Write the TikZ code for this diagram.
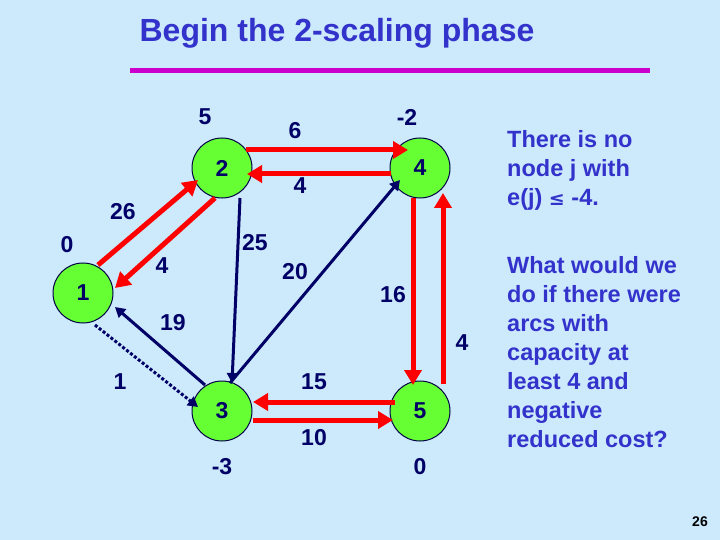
\documentclass[tikz,border=0pt]{standalone}
\usepackage{fontspec}
\setmainfont{Liberation Sans}
\usetikzlibrary{arrows.meta,calc}
\definecolor{bgblue}{RGB}{204,234,252}
\definecolor{titleblue}{RGB}{51,51,204}
\definecolor{navy}{RGB}{0,0,102}
\definecolor{nodegreen}{RGB}{102,255,51}
\definecolor{arcred}{RGB}{255,0,0}
\definecolor{rulemag}{RGB}{204,0,204}
\tikzset{
  vtx/.style={circle,draw=navy!70!black,line width=1pt,fill=nodegreen,minimum size=60pt,inner sep=0pt,font=\fontsize{23}{26}\selectfont\bfseries,text=navy},
  lbl/.style={font=\fontsize{23}{26}\selectfont\bfseries,text=navy,inner sep=0pt},
  redarc/.style={draw=arcred,line width=5pt,-{Triangle[length=15pt,width=17pt]}},
  navyarc/.style={draw=navy,line width=3pt,-{Triangle[length=10pt,width=11pt]}},
  dotarc/.style={draw=navy,line width=3pt,dotted,-{Triangle[length=10pt,width=11pt]}},
  sidetext/.style={font=\fontsize{23.5}{29}\selectfont\bfseries,text=titleblue,align=left,anchor=north west,inner sep=0pt}
}
\begin{document}
\begin{tikzpicture}[x=1pt,y=-1pt]
\fill[bgblue] (0,0) rectangle (720,540);
\useasboundingbox (0,0) rectangle (720,540);
\node[font=\fontsize{32}{36}\selectfont\bfseries,text=titleblue] (title) at (337,33) {Begin the 2-scaling phase};
\draw[rulemag,line width=5pt] (130,71) coordinate (r1) -- (650,71) coordinate (r2);
% nodes
\node[vtx] (n1) at (83,293) {1};
\node[vtx] (n2) at (222,168) {2};
\node[vtx] (n3) at (222,411) {3};
\node[vtx] (n4) at (420,168) {4};
\node[vtx] (n5) at (420,411) {5};
% arcs
\draw[redarc] ($(n2)+(24,-18)$) -- ($(n4)+(-12,-18)$);
\draw[redarc] ($(n4)+(-29,6)$) -- ($(n2)+(25,6)$);
\draw[redarc] ($(n1)+(15,-28)$) -- ($(n2)+(-24,12)$);
\draw[redarc] ($(n2)+(-7,30)$) -- ($(n1)+(32,-5)$);
\draw[navyarc] ($(n2)+(18,30)$) -- ($(n3)+(10,-28)$);
\draw[navyarc] ($(n3)+(8,-28)$) -- ($(n4)+(-20,12)$);
\draw[navyarc] ($(n3)+(-17,-26)$) -- ($(n1)+(32,14)$);
\draw[dotarc] ($(n1)+(12,32)$) -- ($(n3)+(-24,-4)$);
\draw[redarc] ($(n5)+(-25,-9)$) -- ($(n3)+(31,-9)$);
\draw[redarc] ($(n3)+(31,9)$) -- ($(n5)+(-27,9)$);
\draw[redarc] ($(n4)+(-7,30)$) -- ($(n5)+(-7,-26)$);
\draw[redarc] ($(n5)+(23,-27)$) -- ($(n4)+(23,25)$);
% labels
\node[lbl] (e2) at (205,117) {5};
\node[lbl] (c24) at (295,131) {6};
\node[lbl] (e4) at (407,117) {-2};
\node[lbl] (c42) at (300,186) {4};
\node[lbl] (c12) at (123,212) {26};
\node[lbl] (e1) at (67,245) {0};
\node[lbl] (c23) at (255,243) {25};
\node[lbl] (c21) at (162,266) {4};
\node[lbl] (c34) at (295,272) {20};
\node[lbl] (c45) at (393,295) {16};
\node[lbl] (c31) at (173,323) {19};
\node[lbl] (c54) at (462,343) {4};
\node[lbl] (c13) at (120,382) {1};
\node[lbl] (c53) at (314,382) {15};
\node[lbl] (c35) at (314,438) {10};
\node[lbl] (e3) at (222,467) {-3};
\node[lbl] (e5) at (420,467) {0};
% side text
\node[sidetext] (t1) at (507,130) {There is no\\node j with\\e(j) {\fontspec{DejaVu Sans}\fontsize{19}{29}\selectfont ≤} -4.};
\node[sidetext] (t2) at (507,256) {What would we\\do if there were\\arcs with\\capacity at\\least 4 and\\negative\\reduced cost?};
\node[font=\fontsize{14}{16}\selectfont\bfseries] (pg) at (700,522) {26};
\end{tikzpicture}
\end{document}
